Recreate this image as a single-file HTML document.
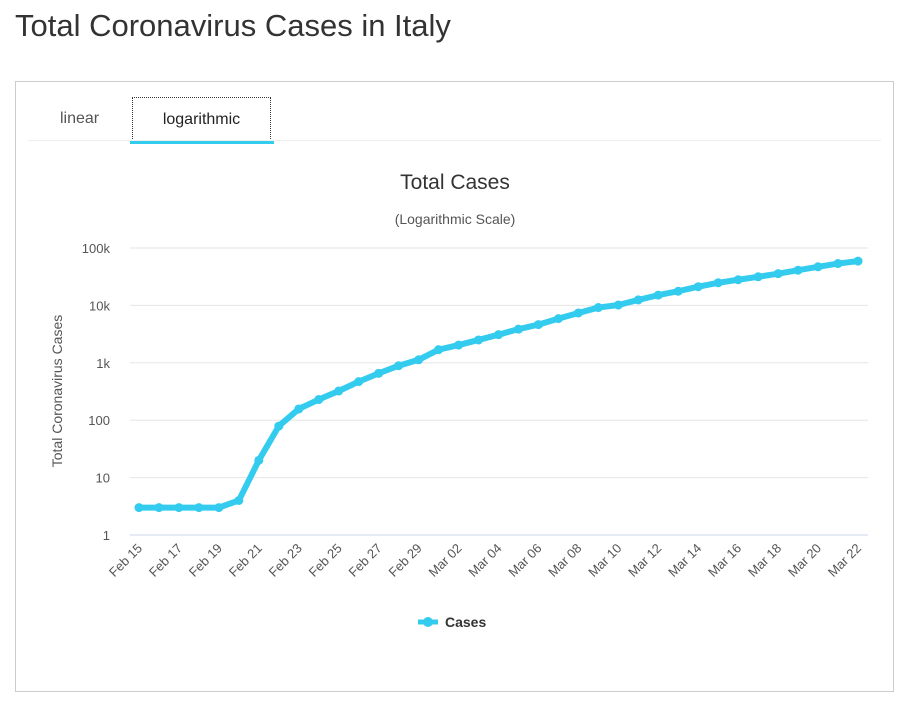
<!DOCTYPE html>
<html><head><meta charset="utf-8"><style>
body{margin:0;background:#fff;font-family:"Liberation Sans","DejaVu Sans",sans-serif;width:910px;height:726px;overflow:hidden;position:relative}
h1{position:absolute;left:15px;top:8px;margin:0;font-weight:normal;font-size:31px;color:#333}
.box{position:absolute;left:15px;top:81px;width:877px;height:609px;border:1px solid #ccc}
.tab{position:absolute;top:15px;height:43px;line-height:43px;font-size:16px;color:#555}
</style></head><body>
<h1>Total Coronavirus Cases in Italy</h1>
<div class="box">
<div class="tab" style="left:44px">linear</div>
<div class="tab" style="left:116px;width:137px;height:42px;border:1px dotted #333;text-align:center;color:#222">logarithmic</div>
<div style="position:absolute;left:114px;top:59px;width:144px;height:3px;background:#33ccee"></div>
<div style="position:absolute;left:12px;right:12px;top:58px;height:1px;background:#eee"></div>
</div>
<svg id="chart" width="910" height="726" style="position:absolute;left:0;top:0"></svg>
<script>
const categories=["Feb 15","Feb 16","Feb 17","Feb 18","Feb 19","Feb 20","Feb 21","Feb 22","Feb 23","Feb 24","Feb 25","Feb 26","Feb 27","Feb 28","Feb 29","Mar 01","Mar 02","Mar 03","Mar 04","Mar 05","Mar 06","Mar 07","Mar 08","Mar 09","Mar 10","Mar 11","Mar 12","Mar 13","Mar 14","Mar 15","Mar 16","Mar 17","Mar 18","Mar 19","Mar 20","Mar 21","Mar 22"];
const cases=[3,3,3,3,3,4,20,79,157,229,323,470,655,889,1128,1694,2036,2502,3089,3858,4636,5883,7375,9172,10149,12462,15113,17660,21157,24747,27980,31506,35713,41035,47021,53578,59138];
const tickValues=[1,10,100,1000,10000,100000];
const tickLabels=["1","10","100","1k","10k","100k"];
const NS="http://www.w3.org/2000/svg",svg=document.getElementById('chart');
const x0=139,x1=858,yBottom=535,decade=57.4;
const xs=i=>x0+(x1-x0)*i/(categories.length-1);
const ys=v=>yBottom-Math.log10(v)*decade;
function el(t,a,txt){const e=document.createElementNS(NS,t);for(const k in a)e.setAttribute(k,a[k]);if(txt!=null)e.textContent=txt;svg.appendChild(e);return e;}
let e;
e=el('text',{x:455,y:189,'text-anchor':'middle','font-size':21,fill:'#333'},'Total Cases');

e=el('text',{x:455,y:224,'text-anchor':'middle','font-size':14,fill:'#555'},'(Logarithmic Scale)');

e=el('text',{transform:'translate(62,391) rotate(-90)','text-anchor':'middle','font-size':14,fill:'#555'},'Total Coronavirus Cases');

tickValues.forEach((v,i)=>{const y=ys(v);
 e=el('line',{x1:130,x2:868,y1:y,y2:y,stroke:i==0?'#ccd6eb':'#e6e6e6'});
 
 e=el('text',{x:110,y:y+5,'text-anchor':'end','font-size':13,fill:'#555'},tickLabels[i]);
 });
categories.forEach((c,i)=>{if(i%2)return;const x=xs(i);
 e=el('text',{transform:`translate(${x+4},${549}) rotate(-45)`,'text-anchor':'end','font-size':13,fill:'#555'},c);
 });
e=el('polyline',{points:cases.map((v,i)=>xs(i)+','+ys(v)).join(' '),fill:'none',stroke:'#33ccee','stroke-width':6,'stroke-linejoin':'round'});

cases.forEach((v,i)=>{e=el('circle',{cx:xs(i),cy:ys(v),r:4.5,fill:'#33ccee'});
 });
e=el('line',{x1:418,x2:438,y1:622,y2:622,stroke:'#33ccee','stroke-width':5});

e=el('circle',{cx:428,cy:622,r:5,fill:'#33ccee'});

e=el('text',{x:445,y:627,'font-size':14,'font-weight':'bold',fill:'#333'},'Cases');

</script>
</body></html>
